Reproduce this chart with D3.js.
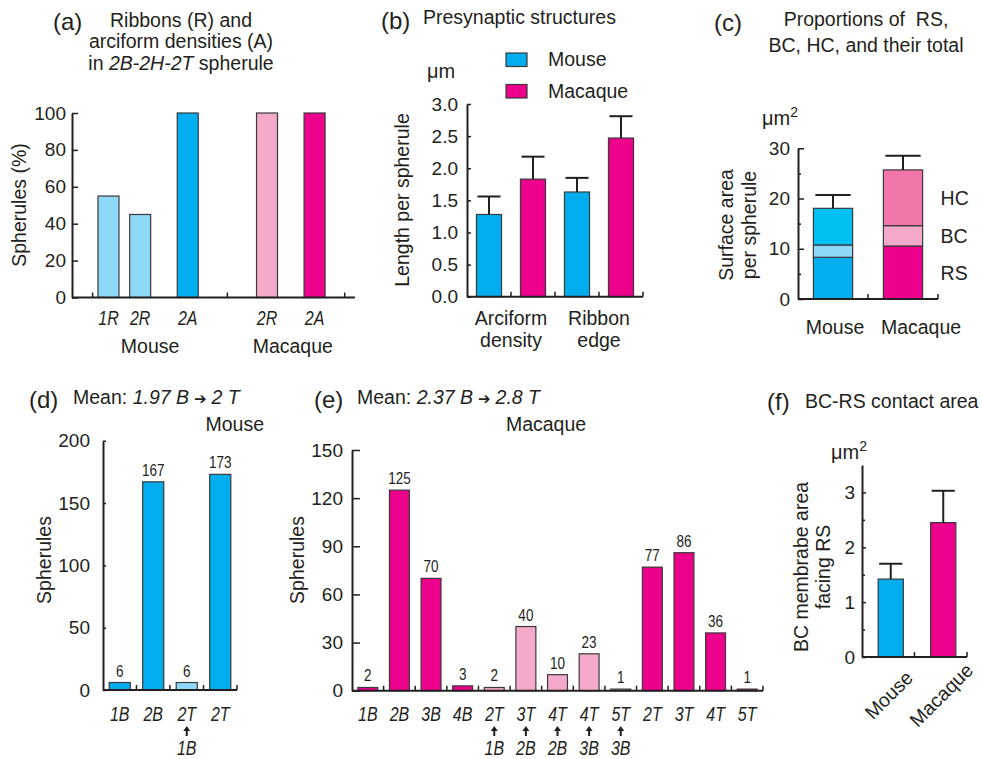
<!DOCTYPE html>
<html>
<head>
<meta charset="utf-8">
<script src="https://cdn.jsdelivr.net/npm/d3@7"></script>
<style>
  body { margin: 0; background: #fff; }
  svg text { font-family: "Liberation Sans", Arial, Helvetica, sans-serif; fill: #231f20; }
</style>
</head>
<body>
<div id="chart"></div>
<script>
// ---------- data ----------
// (a) ribbons / arciform densities in 2B-2H-2T spherules (%)
const aLabels = ['1R', '2R', '2A', '2R', '2A'];
const aGroups = ['Mouse', 'Mouse', 'Mouse', 'Macaque', 'Macaque'];
const aValues = [55, 45, 100, 100, 100];
const aTicks = [0, 20, 40, 60, 80, 100];

// (b) presynaptic structures, length per spherule (µm)
const bCategories = [['Arciform', 'density'], ['Ribbon', 'edge']];
const bSeries = ['Mouse', 'Macaque'];
const bMouse = [1.28, 1.63];
const bMouseSD = [0.28, 0.22];
const bMacaque = [1.83, 2.47];
const bMacaqueSD = [0.35, 0.34];
const bTicks = [0, 0.5, 1, 1.5, 2, 2.5, 3];

// (c) surface area per spherule (µm2)
const cSpecies = ['Mouse', 'Macaque'];
const cParts = ['RS', 'BC', 'HC'];
const cRS = [8.3, 10.55];
const cBC = [2.45, 4.05];
const cHC = [7.3, 11.1];
const cTotalSD = [2.65, 2.8];
const cTicks = [0, 10, 20, 30];
const cMinorTicks = [5, 15, 25];

// (d) mouse spherules
const dLabels = ['1B', '2B', '2T', '2T'];
const dFrom = ['', '', '1B', ''];
const dValues = [6, 167, 6, 173];
const dTicks = [0, 50, 100, 150, 200];

// (e) macaque spherules
const eLabels = ['1B', '2B', '3B', '4B', '2T', '3T', '4T', '4T', '5T', '2T', '3T', '4T', '5T'];
const eFrom = ['', '', '', '', '1B', '2B', '2B', '3B', '3B', '', '', '', ''];
const eValues = [2, 125, 70, 3, 2, 40, 10, 23, 1, 77, 86, 36, 1];
const eTicks = [0, 30, 60, 90, 120, 150];

// (f) BC-RS contact area (µm2)
const fSpecies = ['Mouse', 'Macaque'];
const fValues = [1.42, 2.45];
const fSD = [0.28, 0.58];
const fTicks = [0, 1, 2, 3];
const fMinorTicks = [0.5, 1.5, 2.5];

// ---------- style ----------
const INK = '#231f20';
const EDGE = '#3a3a3a';
const FS = 19.5;      // running text
const TICK_FS = 19;   // axis numbers
const COLORS = {
  blue: '#00aeef', lightBlue: '#8ed8f8', cyan: '#00bff3',
  magenta: '#ec008c', lightPink: '#f5aacb', pink: '#f075a8'
};
const SPECIES_COLOR = { Mouse: COLORS.blue, Macaque: COLORS.magenta };
const PART_COLOR = {
  Mouse: { RS: COLORS.blue, BC: COLORS.lightBlue, HC: COLORS.cyan },
  Macaque: { RS: COLORS.magenta, BC: COLORS.lightPink, HC: COLORS.pink }
};

const svg = d3.select('#chart').append('svg').attr('width', 982).attr('height', 759);

// ---------- helpers ----------
function text(x, y, str, size, anchor) {
  return svg.append('text').attr('x', x).attr('y', y)
    .attr('font-size', size).attr('text-anchor', anchor || 'start').text(str);
}

function vtext(x, y, str, size) {
  return svg.append('text').attr('transform', `translate(${x},${y}) rotate(-90)`)
    .attr('font-size', size).attr('text-anchor', 'middle').text(str);
}

// condensed labels (bar values, italic categories)
function narrow(x, y, str, size, italic) {
  return svg.append('text').attr('transform', `translate(${x},${y}) scale(0.82,1)`)
    .attr('font-size', size).attr('text-anchor', 'middle')
    .attr('font-style', italic ? 'italic' : null).text(str);
}

function yAxis(x, scale, ticks, pad, size, fmt, minor) {
  const g = svg.append('g').attr('transform', `translate(${x},0)`)
    .call(d3.axisLeft(scale).tickValues(ticks).tickSizeInner(-size).tickSizeOuter(0)
      .tickPadding(pad).tickFormat(fmt || (d => d)));
  g.attr('font-size', TICK_FS).attr('font-family', null).style('color', INK);
  g.select('.domain').attr('stroke-width', 2);
  g.selectAll('.tick line').attr('stroke-width', 1.5);
  if (minor) {
    const m = svg.append('g').attr('transform', `translate(${x},0)`)
      .call(d3.axisLeft(scale).tickValues(minor).tickSizeInner(-3).tickSizeOuter(0).tickFormat(''));
    m.style('color', INK);
    m.select('.domain').remove();
    m.selectAll('.tick line').attr('stroke-width', 1.5);
  }
  return g;
}

function xBase(y, x0, x1, tickXs) {
  svg.append('line').attr('x1', x0).attr('x2', x1).attr('y1', y).attr('y2', y)
    .attr('stroke', INK).attr('stroke-width', 2);
  svg.append('g').selectAll('line').data(tickXs).join('line')
    .attr('x1', d => d).attr('x2', d => d).attr('y1', y).attr('y2', y - 5)
    .attr('stroke', INK).attr('stroke-width', 1.5);
}

function bandEdges(x) {
  return x.domain().map(d => x(d) + x.bandwidth() + x.step() * x.paddingInner() / 2);
}

function errorBar(cx, yFrom, yTo, capW) {
  svg.append('line').attr('x1', cx).attr('x2', cx).attr('y1', yFrom).attr('y2', yTo)
    .attr('stroke', INK).attr('stroke-width', 2);
  svg.append('line').attr('x1', cx - capW / 2).attr('x2', cx + capW / 2).attr('y1', yTo).attr('y2', yTo)
    .attr('stroke', INK).attr('stroke-width', 2);
}

function upArrow(cx, y) {
  svg.append('path').attr('fill', INK)
    .attr('d', `M${cx},${y} L${cx + 3.5},${y + 5} L${cx + 1},${y + 5} L${cx + 1},${y + 10} L${cx - 1},${y + 10} L${cx - 1},${y + 5} L${cx - 3.5},${y + 5} Z`);
}

function bar(x, w, y0, y1, fill) {
  svg.append('rect').attr('x', x).attr('width', w).attr('y', y1).attr('height', Math.max(0, y0 - y1))
    .attr('fill', fill).attr('stroke', EDGE).attr('stroke-width', 1.2);
}

// ---------- (a) ----------
{
  // slot spacing: 2 within a ribbon group, 3 between R and A, 5 between species
  const slots = [];
  aLabels.forEach((l, i) => {
    if (i === 0) return slots.push(0);
    const gap = aGroups[i] !== aGroups[i - 1] ? 5 : (l.slice(-1) !== aLabels[i - 1].slice(-1) ? 3 : 2);
    slots.push(slots[i - 1] + gap);
  });
  const x = d3.scaleLinear().domain([-2.3, 15.55]).range([72, 355]);
  const y = d3.scaleLinear().domain([0, 100]).range([297.5, 113]);
  const w = 21;

  aValues.forEach((v, i) => {
    const ribbon = aLabels[i].endsWith('R');
    const fill = aGroups[i] === 'Mouse'
      ? (ribbon ? COLORS.lightBlue : COLORS.blue)
      : (ribbon ? COLORS.lightPink : COLORS.magenta);
    bar(x(slots[i]) - w / 2, w, y(0), y(v), fill);
    narrow(x(slots[i]), 325, aLabels[i], 19.5, true);
  });
  yAxis(72, y, aTicks, 6, 6);
  const split = slots.findIndex((s, i) => aGroups[i] !== aGroups[0]);
  xBase(y(0), 72, 355, [x(-1), x((slots[split - 1] + slots[split]) / 2), x(slots[slots.length - 1] + 1.9)]);

  ['Mouse', 'Macaque'].forEach(g => {
    const s = slots.filter((_, i) => aGroups[i] === g);
    text(x((s[0] + s[s.length - 1]) / 2) + 2, 353, g, FS, 'middle');
  });
  vtext(26, 205, 'Spherules (%)', FS);

  text(53, 30, '(a)', 24);
  text(181, 27, 'Ribbons (R) and', FS, 'middle');
  text(181, 48, 'arciform densities (A)', FS, 'middle');
  const t = text(181, 70, '', FS, 'middle');
  t.append('tspan').text('in ');
  t.append('tspan').attr('font-style', 'italic').text('2B-2H-2T');
  t.append('tspan').text(' spherule');
}

// ---------- (b) ----------
{
  const x0 = d3.scaleBand().domain(d3.range(bCategories.length)).range([467, 643]);
  const x1 = d3.scaleBand().domain(bSeries).range([0, x0.bandwidth()]).paddingInner(0.43).paddingOuter(0.215);
  const y = d3.scaleLinear().domain([0, 3]).range([296.7, 104]);
  const vals = { Mouse: bMouse, Macaque: bMacaque };
  const sds = { Mouse: bMouseSD, Macaque: bMacaqueSD };
  const edges = [];

  bCategories.forEach((cat, i) => {
    bSeries.forEach(s => {
      const bx = x0(i) + x1(s);
      bar(bx, x1.bandwidth(), y(0), y(vals[s][i]), SPECIES_COLOR[s]);
      errorBar(bx + x1.bandwidth() / 2, y(vals[s][i]), y(vals[s][i] + sds[s][i]), x1.bandwidth() * 0.92);
      edges.push(bx + x1.bandwidth() + x1.step() * x1.paddingInner() / 2);
    });
    const cx = x0(i) + x0.bandwidth() / 2;
    text(cx, 325, cat[0], FS, 'middle');
    text(cx, 347, cat[1], FS, 'middle');
  });
  yAxis(467, y, bTicks, 9, 4, d3.format('.1f'));
  xBase(y(0), 467, 643, edges);
  vtext(409, 200, 'Length per spherule', FS);
  text(427, 78, 'μm', 20);

  bSeries.forEach((s, i) => {
    svg.append('rect').attr('x', 506).attr('y', 53 + i * 31.5).attr('width', 21).attr('height', 13.5)
      .attr('fill', SPECIES_COLOR[s]).attr('stroke', EDGE).attr('stroke-width', 1.2);
    text(548, 66 + i * 31.5, s, FS);
  });

  text(381, 29, '(b)', 24);
  text(423, 24, 'Presynaptic structures', FS);
}

// ---------- (c) ----------
{
  const x = d3.scaleBand().domain(cSpecies).range([798, 938]).paddingInner(0.44).paddingOuter(0.22);
  const y = d3.scaleLinear().domain([0, 30]).range([299, 148.3]);
  const rows = cSpecies.map((s, i) => ({ species: s, RS: cRS[i], BC: cBC[i], HC: cHC[i] }));
  const stacked = d3.stack().keys(cParts)(rows);

  stacked.forEach(layer => {
    layer.forEach((seg, i) => {
      const s = cSpecies[i];
      bar(x(s), x.bandwidth(), y(seg[0]), y(seg[1]), PART_COLOR[s][layer.key]);
    });
  });
  cSpecies.forEach((s, i) => {
    const total = cRS[i] + cBC[i] + cHC[i];
    errorBar(x(s) + x.bandwidth() / 2, y(total), y(total + cTotalSD[i]), x.bandwidth() * 0.9);
  });
  // part labels beside the macaque column
  const last = cSpecies.length - 1;
  stacked.forEach(layer => {
    const seg = layer[last];
    text(x(cSpecies[last]) + x.bandwidth() + 18, y((seg[0] + seg[1]) / 2) + 7, layer.key, FS);
  });
  yAxis(798, y, cTicks, 8, 6, null, cMinorTicks);
  xBase(y(0), 798, 938, bandEdges(x));
  const labelShift = [2, 18];
  cSpecies.forEach((s, i) => text(x(s) + x.bandwidth() / 2 + labelShift[i], 334, s, FS, 'middle'));

  vtext(733, 225, 'Surface area', FS);
  vtext(756, 225, 'per spherule', FS);
  const u = text(762, 125, 'μm', 20);
  u.append('tspan').attr('font-size', 14).attr('dy', -8).text('2');

  text(714, 31, '(c)', 24);
  text(866, 26, 'Proportions of\u00a0 RS,', FS, 'middle');
  text(866, 52, 'BC, HC, and their total', FS, 'middle');
}

// ---------- (d) / (e) shared layout ----------
function countPanel(opts) {
  const x = d3.scaleBand().domain(d3.range(opts.labels.length)).range([opts.x0, opts.x1])
    .paddingInner(0.37).paddingOuter(0.185);
  const y = d3.scaleLinear().domain([0, opts.max]).range([opts.y0, opts.yTop]);
  opts.values.forEach((v, i) => {
    const cx = x(i) + x.bandwidth() / 2;
    bar(x(i), x.bandwidth(), y(0), y(v), opts.from[i] ? opts.light : opts.dark);
    narrow(cx, y(v) - 6, v, 16.5);
    narrow(cx, 721, opts.labels[i], 19.5, true);
    if (opts.from[i]) {
      upArrow(cx, 726);
      narrow(cx, 755, opts.from[i], 19.5, true);
    }
  });
  yAxis(opts.x0, y, opts.ticks, opts.pad, opts.tick);
  xBase(y(0), opts.x0, opts.x1, bandEdges(x));
  vtext(opts.titleX, 560, 'Spherules', FS);
}

function meanTitle(x, y, b, t) {
  const el = text(x, y, '', FS);
  el.append('tspan').text('Mean: ');
  el.append('tspan').attr('font-style', 'italic').text(b + ' B');
  el.append('tspan').attr('font-family', 'DejaVu Sans').attr('font-size', 15).attr('dx', 5).text('➔');
  el.append('tspan').attr('font-style', 'italic').attr('dx', 5).text(t + ' T');
}

// ---------- (d) ----------
countPanel({
  labels: dLabels, from: dFrom, values: dValues, ticks: dTicks, max: 200,
  x0: 103, x1: 237, y0: 690, yTop: 440.7, pad: 13, tick: 3,
  dark: COLORS.blue, light: COLORS.lightBlue, titleX: 51
});
text(29, 408, '(d)', 24);
meanTitle(73, 404, '1.97', '2');
text(264, 431, 'Mouse', FS, 'end');

// ---------- (e) ----------
countPanel({
  labels: eLabels, from: eFrom, values: eValues, ticks: eTicks, max: 150,
  x0: 352, x1: 763, y0: 690.7, yTop: 450, pad: 9, tick: 8,
  dark: COLORS.magenta, light: COLORS.lightPink, titleX: 304
});
text(314, 408, '(e)', 24);
meanTitle(357, 404, '2.37', '2.8');
text(546, 431, 'Macaque', FS, 'middle');

// ---------- (f) ----------
{
  const x = d3.scaleBand().domain(fSpecies).range([864.5, 969.5]).paddingInner(0.52).paddingOuter(0.26);
  const y = d3.scaleLinear().domain([0, 3.5]).range([657, 465]);
  fSpecies.forEach((s, i) => {
    const cx = x(s) + x.bandwidth() / 2;
    bar(x(s), x.bandwidth(), y(0), y(fValues[i]), SPECIES_COLOR[s]);
    errorBar(cx, y(fValues[i]), y(fValues[i] + fSD[i]), x.bandwidth() * 0.92);
    svg.append('text').attr('transform', `translate(${cx - 2},${y(0) + 38}) rotate(-45)`)
      .attr('font-size', FS).attr('text-anchor', 'middle').attr('dy', '0.35em').text(s);
  });
  yAxis(862, y, fTicks, 7, 4, null, fMinorTicks);
  xBase(y(0), 862, 967, bandEdges(x).map(e => e - 2.5));
  vtext(808, 567, 'BC membrabe area', FS);
  vtext(830, 567, 'facing RS', FS);
  const u = text(831, 459, 'μm', 20);
  u.append('tspan').attr('font-size', 14).attr('dy', -8).text('2');

  text(767, 410, '(f)', 24);
  text(805, 408, 'BC-RS contact area', FS);
}
</script>
</body>
</html>
